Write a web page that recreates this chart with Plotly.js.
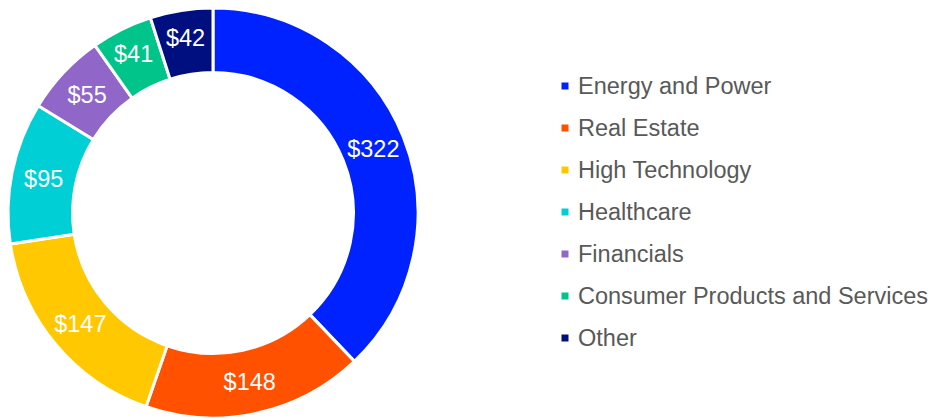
<!DOCTYPE html>
<html>
<head>
<meta charset="utf-8">
<script src="https://cdn.plot.ly/plotly-3.0.1.min.js"></script>
<style>html,body{margin:0;padding:0;background:#fff;}#chart{width:939px;height:418px;}</style>
</head>
<body>
<div id="chart"></div>
<script>
const sectors = ["Energy and Power", "Real Estate", "High Technology", "Healthcare", "Financials", "Consumer Products and Services", "Other"];
const values = [322, 148, 147, 95, 55, 41, 42];
const colors = ["#0022FF", "#FF5100", "#FFC800", "#00CFD6", "#9066C9", "#00C48A", "#000F80"];

const W = 939, H = 418, mt = 8, mb = 0;
const plotH = H - mt - mb;
function py(p) { return (H - mb - p) / plotH; }

const annotations = [];
const shapes = [];
sectors.forEach((s, i) => {
  const yc = 86 + 42 * i;
  annotations.push({
    text: s, xref: 'paper', yref: 'paper', x: 576 / W, y: py(yc),
    xanchor: 'left', yanchor: 'middle', showarrow: false,
    font: {family: 'Liberation Sans, Arial, sans-serif', size: 23.5, color: '#595959'}
  });
  shapes.push({
    type: 'rect', xref: 'paper', yref: 'paper',
    x0: 561.5 / W, x1: 568.5 / W, y0: py(yc + 3.5), y1: py(yc - 3.5),
    fillcolor: colors[i], line: {width: 0}
  });
});

const trace = {
  type: 'pie',
  labels: sectors,
  values: values,
  text: values.map(v => '$' + v),
  textinfo: 'text',
  textposition: 'inside',
  insidetextorientation: 'horizontal',
  hole: 0.685,
  sort: false,
  direction: 'clockwise',
  rotation: 0,
  marker: {colors: colors, line: {color: '#FFFFFF', width: 3}},
  textfont: {family: 'Liberation Sans, Arial, sans-serif', size: 23.5, color: '#FFFFFF'},
  domain: {x: [8 / W, 418 / W], y: [0, 1]},
  showlegend: false
};

const layout = {
  width: W, height: H,
  margin: {l: 0, r: 0, t: mt, b: mb},
  paper_bgcolor: '#FFFFFF',
  plot_bgcolor: '#FFFFFF',
  showlegend: false,
  annotations: annotations,
  shapes: shapes
};

Plotly.newPlot('chart', [trace], layout, {displayModeBar: false, staticPlot: true});
</script>
</body>
</html>
